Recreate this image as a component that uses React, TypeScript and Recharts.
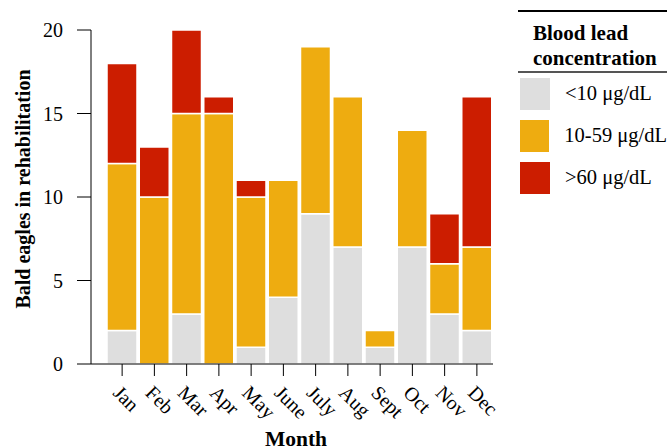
import React from 'react'
import { BarChart, Bar, XAxis, YAxis } from 'recharts'

const months = ['Jan', 'Feb', 'Mar', 'Apr', 'May', 'June', 'July', 'Aug', 'Sept', 'Oct', 'Nov', 'Dec']
const low = [2, 0, 3, 0, 1, 4, 9, 7, 1, 7, 3, 2]
const mid = [10, 10, 12, 15, 9, 7, 10, 9, 1, 7, 3, 5]
const high = [6, 3, 5, 1, 1, 0, 0, 0, 0, 0, 3, 9]
const yTicks = [0, 5, 10, 15, 20]

const SERIES = [
    { key: 'low', name: '<10 \u03bcg/dL', color: '#DEDEDE' },
    { key: 'mid', name: '10-59 \u03bcg/dL', color: '#EEAC10' },
    { key: 'high', name: '>60 \u03bcg/dL', color: '#CC1D00' },
]

const FONT = '"Liberation Serif", "Times New Roman", serif'

const data = months.map((m, i) => ({ month: m, low: low[i], mid: mid[i], high: high[i] }))

// legend drawn beside the chart so it doesn't eat into the plot area
function LegendBox() {
    return (
        <div style={{ position: 'absolute', left: 518, top: 10, width: 149, fontFamily: FONT, color: '#000' }}>
            <div style={{ borderTop: '2px solid #000', borderBottom: '2px solid #555', paddingTop: 8.5, paddingLeft: 15, fontWeight: 'bold', fontSize: 21, lineHeight: '25px' }}>
                Blood lead<br />concentration
            </div>
            {SERIES.map(s => (
                <div key={s.key} style={{ display: 'flex', alignItems: 'center', height: 42 }}>
                    <div style={{ width: 30, height: 32, marginLeft: 2, background: s.color }} />
                    <span style={{ marginLeft: 15, fontSize: 20.5, whiteSpace: 'nowrap' }}>{s.name}</span>
                </div>
            ))}
        </div>
    )
}

export default function App() {
    return (
        <div style={{ position: 'absolute', left: 0, top: 0, width: 670, height: 448, background: '#fff' }}>
            <BarChart
                width={670}
                height={448}
                data={data}
                margin={{ top: 30, right: 177, bottom: 0, left: 0 }}
                barCategoryGap={1}
                style={{ fontFamily: FONT }}
            >
                <XAxis
                    dataKey="month"
                    padding={{ left: 15, right: 0 }}
                    height={84}
                    tickSize={12}
                    tickMargin={8}
                    angle={45}
                    textAnchor="start"
                    interval={0}
                    tick={{ fill: '#000', fontSize: 20 }}
                    stroke="#000"
                    label={{
                        content: () => (
                            <text x={296} y={446} textAnchor="middle" fill="#000"
                                style={{ fontFamily: FONT, fontSize: 21.5, fontWeight: 'bold' }}>
                                Month
                            </text>
                        ),
                    }}
                />
                <YAxis
                    domain={[0, 20]}
                    ticks={yTicks}
                    width={91}
                    tickSize={14}
                    tickMargin={14}
                    tick={{ fill: '#000', fontSize: 20 }}
                    stroke="#000"
                    label={{
                        content: () => (
                            <text x={23} y={189} transform="rotate(-90 23 189)" textAnchor="middle" dominantBaseline="central"
                                style={{ fontFamily: FONT, fontSize: 20, fontWeight: 'bold' }} fill="#000">
                                Bald eagles in rehabilitation
                            </text>
                        ),
                    }}
                />
                {SERIES.map(s => (
                    <Bar key={s.key} dataKey={s.key} name={s.name} stackId="a" fill={s.color} stroke="#fff" strokeWidth={1.5} isAnimationActive={false} />
                ))}
            </BarChart>
            <LegendBox />
        </div>
    )
}
